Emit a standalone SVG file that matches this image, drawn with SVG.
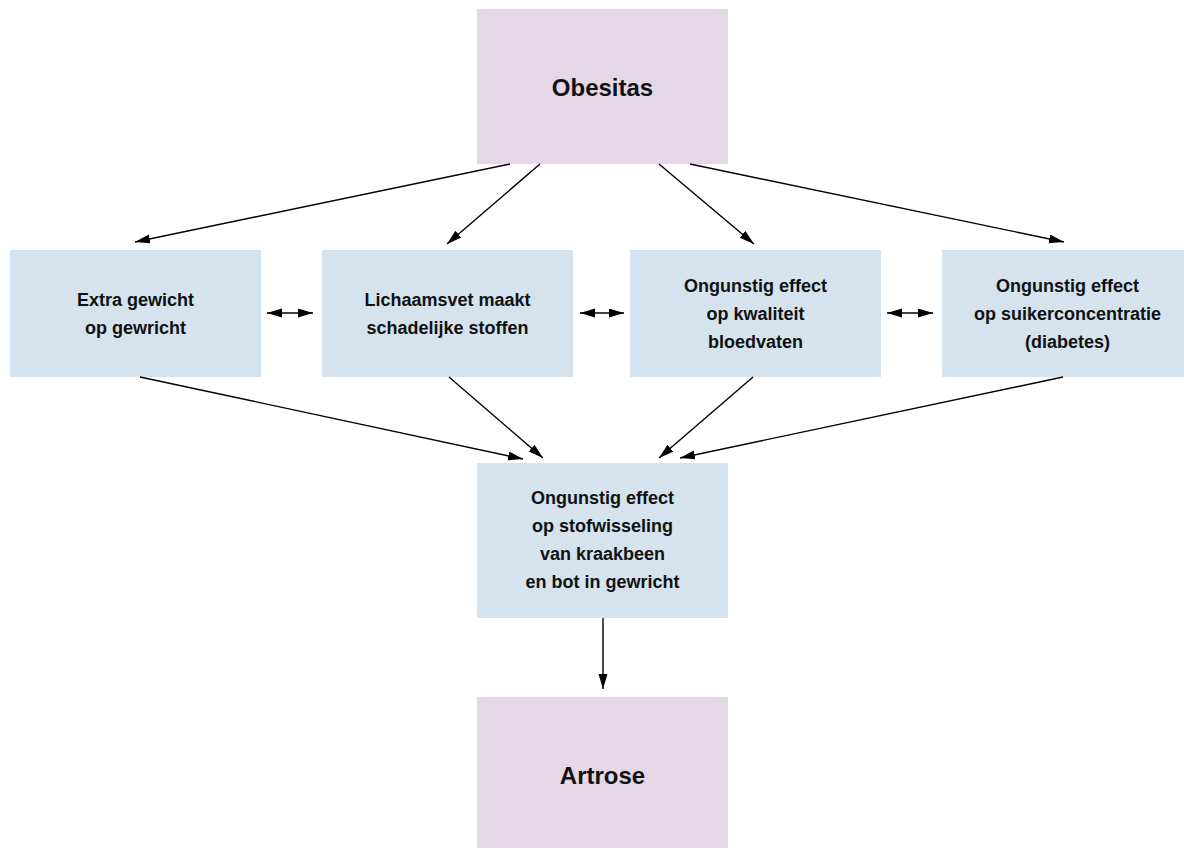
<svg xmlns="http://www.w3.org/2000/svg" width="1184" height="848" viewBox="0 0 1184 848">
<style>
.pink{fill:#E5D8E6}
.blue{fill:#D4E3ED}
text{font-family:"Liberation Sans",Arial,sans-serif;font-weight:bold;fill:#111;text-anchor:middle}
.big{font-size:24px}
.sm{font-size:18px}
.conn line{stroke:#000;stroke-width:1.4;fill:none}
</style>
<defs>
<marker id="ah" markerUnits="userSpaceOnUse" markerWidth="16" markerHeight="10" refX="15" refY="4.5" orient="auto-start-reverse" viewBox="0 0 16 10">
<path d="M0,0 L15,4.5 L0,9 z" fill="#000"/>
</marker>
</defs>
<rect width="1184" height="848" fill="#fff"/>
<g id="obesitas"><rect class="pink" x="477" y="9" width="251" height="155"/><text class="big" x="602.5" y="96">Obesitas</text></g>
<g id="extra"><rect class="blue" x="10" y="250" width="251" height="127"/><text class="sm" x="135.5" y="306">Extra gewicht</text><text class="sm" x="135.5" y="334">op gewricht</text></g>
<g id="lichaamsvet"><rect class="blue" x="322" y="250" width="251" height="127"/><text class="sm" x="447.5" y="306">Lichaamsvet maakt</text><text class="sm" x="447.5" y="334">schadelijke stoffen</text></g>
<g id="bloedvaten"><rect class="blue" x="630" y="250" width="251" height="127"/><text class="sm" x="755.5" y="292">Ongunstig effect</text><text class="sm" x="755.5" y="320">op kwaliteit</text><text class="sm" x="755.5" y="348">bloedvaten</text></g>
<g id="suiker"><rect class="blue" x="942" y="250" width="251" height="127"/><text class="sm" x="1067.5" y="292">Ongunstig effect</text><text class="sm" x="1067.5" y="320">op suikerconcentratie</text><text class="sm" x="1067.5" y="348">(diabetes)</text></g>
<g id="stofwisseling"><rect class="blue" x="477" y="463" width="251" height="155"/><text class="sm" x="602.5" y="504">Ongunstig effect</text><text class="sm" x="602.5" y="532">op stofwisseling</text><text class="sm" x="602.5" y="560">van kraakbeen</text><text class="sm" x="602.5" y="588">en bot in gewricht</text></g>
<g id="artrose"><rect class="pink" x="477" y="697" width="251" height="160"/><text class="big" x="602.5" y="784">Artrose</text></g>
<g class="conn" id="connectors">
<line x1="510" y1="164" x2="135" y2="242" marker-end="url(#ah)"/>
<line x1="540" y1="164" x2="447" y2="244" marker-end="url(#ah)"/>
<line x1="659" y1="164" x2="754" y2="244" marker-end="url(#ah)"/>
<line x1="690" y1="164" x2="1064" y2="242" marker-end="url(#ah)"/>
<line x1="140" y1="377" x2="523" y2="459" marker-end="url(#ah)"/>
<line x1="449" y1="377" x2="543" y2="458" marker-end="url(#ah)"/>
<line x1="753" y1="377" x2="659" y2="458" marker-end="url(#ah)"/>
<line x1="1063" y1="377" x2="680" y2="458" marker-end="url(#ah)"/>
<line x1="603" y1="618" x2="603" y2="689" marker-end="url(#ah)"/>
<line x1="267" y1="313" x2="313" y2="313" marker-start="url(#ah)" marker-end="url(#ah)"/>
<line x1="580" y1="313" x2="624" y2="313" marker-start="url(#ah)" marker-end="url(#ah)"/>
<line x1="887" y1="313" x2="933" y2="313" marker-start="url(#ah)" marker-end="url(#ah)"/>
</g>
</svg>
